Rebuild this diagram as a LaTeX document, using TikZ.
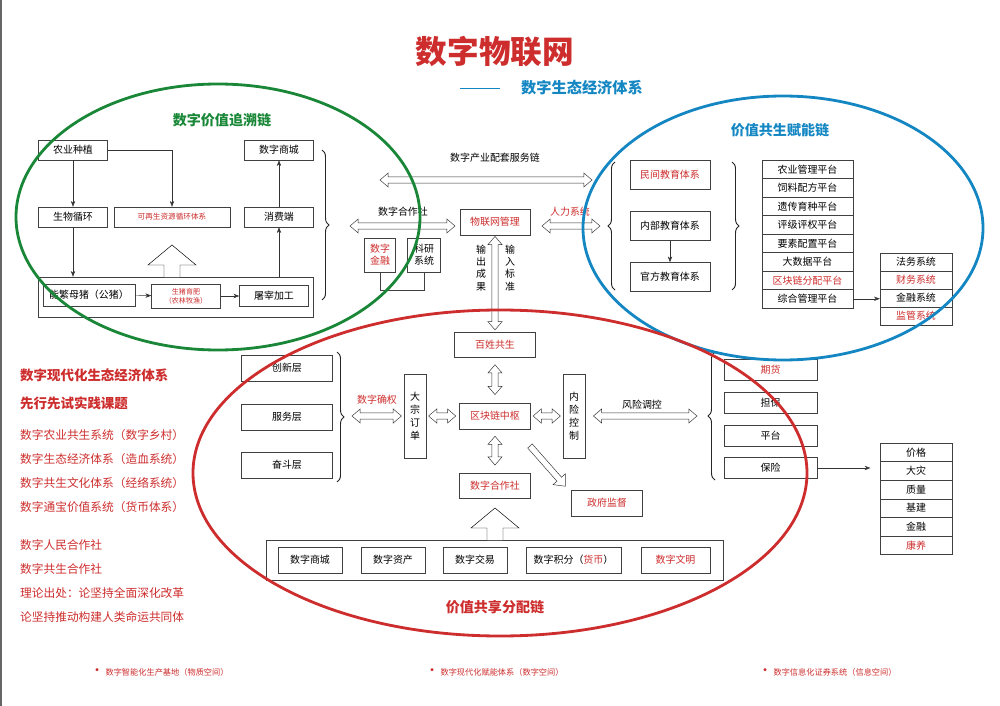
\documentclass[tikz,border=0pt]{standalone}
\usepackage{fontspec}
\setmainfont{Noto Sans CJK SC}
\usetikzlibrary{arrows.meta, calc, positioning, decorations.pathreplacing}
\definecolor{tred}{RGB}{205,45,45}
\definecolor{tgreen}{RGB}{25,135,55}
\definecolor{tblue}{RGB}{20,135,195}
\newcommand{\blockup}[3]{% x, bottom y, tip y
  \draw[thin, fill=white] (#1-8,#2) -- (#1-8,#3+20) -- (#1-24,#3+20) -- (#1,#3) -- (#1+24,#3+20) -- (#1+8,#3+20) -- (#1+8,#2);}
% hollow double arrow between two points
\newcommand{\dblarrow}[2]{%
  \draw[hollow] let \p1=(#1), \p2=(#2), \n1={atan2(\y2-\y1,\x2-\x1)}, \n2={veclen(\x2-\x1,\y2-\y1)} in
    [shift={(\p1)}, rotate=\n1] (0pt,0pt) -- (7pt,6pt) -- (7pt,2.6pt) -- ({\n2-7pt},2.6pt) -- ({\n2-7pt},6pt) -- (\n2,0pt)
    -- ({\n2-7pt},-6pt) -- ({\n2-7pt},-2.6pt) -- (7pt,-2.6pt) -- (7pt,-6pt) -- cycle;}
\newcommand{\onearrow}[2]{%
  \draw[hollow] let \p1=(#1), \p2=(#2), \n1={atan2(\y2-\y1,\x2-\x1)}, \n2={veclen(\x2-\x1,\y2-\y1)} in
    [shift={(\p1)}, rotate=\n1] (0pt,2.6pt) -- ({\n2-8pt},2.6pt) -- ({\n2-8pt},7pt) -- (\n2,0pt)
    -- ({\n2-8pt},-7pt) -- ({\n2-8pt},-2.6pt) -- (0pt,-2.6pt) -- cycle;}
\tikzset{
  box/.style={draw=black!75, thin, fill=white, inner sep=0pt, font=\fontsize{8.5}{10}\selectfont},
  wh/.style 2 args={minimum width=#1*0.03cm, minimum height=#2*0.03cm},
  arr/.style={-{Stealth[length=5pt]}, thin, black!80},
  hollow/.style={thin, black!80, fill=white},
  lbl/.style={font=\fontsize{8.5}{10}\selectfont},
  brc/.style={decorate, decoration={brace, amplitude=6pt}, thick, black!85},
  note/.style={tred, anchor=west, font=\fontsize{10}{12}\selectfont},
}
\begin{document}
\begin{tikzpicture}[x=0.03cm, y=-0.03cm]
\useasboundingbox (0,0) rectangle (1000,706);
\draw[black!60, line width=1pt] (1,0) -- (1,706);

% title
\node[tred, font=\fontsize{27}{30}\bfseries] (title) at (495,52) {数字物联网};
\node[tblue, font=\fontsize{13}{15}\bfseries] (subtitle) at (582,88) {数字生态经济体系};
\draw[tblue, thick] (460,88) -- (500,88);

% traceability chain
\node[box, wh={69}{20}] (plant) at (73,150) {农业种植};
\node[box, wh={69}{20}] (cycle) at (73,217) {生物循环};
\node[box, wh={116}{20}, text=tred, font=\fontsize{6.5}{8}\selectfont] (renew) at (172,217) {可再生资源循环体系};
\node[box, wh={69}{20}] (mall) at (279,150) {数字商城};
\node[box, wh={69}{20}] (consume) at (279,217) {消费端};
\node[box, wh={275}{40}] (farm) at (175.5,297) {};
\node[box, wh={92}{22}] (sow) at (89,295) {能繁母猪（公猪）};
\node[box, wh={69}{24}, text=tred, align=center, font=\fontsize{6}{7.5}\selectfont] (fatten) at (186,296) {生猪育肥\\（农林牧渔）};
\node[box, wh={69}{21}] (slaughter) at (274,296) {屠宰加工};
\draw[arr] (plant) -- (cycle);
\draw[arr] (plant.east) -| (renew.north);
\draw[arr] (cycle.south) -- (cycle.south |- farm.north);
\draw[arr] (consume.south |- farm.north) -- (consume.south);
\draw[arr] (consume) -- (mall);
\draw[arr] (sow) -- (fatten);
\draw[arr] (fatten) -- (slaughter);
\blockup{172}{277}{245}
\draw[brc] (322,150) -- (322,300);

% service chain
\node[lbl] (servlbl) at (495,158) {数字产业配套服务链};
\coordinate (servL) at (380,180);
\coordinate (servR) at (592,180);
\dblarrow{servL}{servR}
\node[lbl] (coop1) at (403,212) {数字合作社};
\node[box, wh={70}{26}, text=tred] (iot) at (495,222) {物联网管理};
\coordinate (coopL) at (350,226);
\coordinate (coopR) at (455,226);
\dblarrow{coopL}{coopR}
\node[box, wh={31}{34}, text=tred, align=center] (fin) at (380,255) {数字\\金融};
\node[box, wh={33}{34}, align=center] (sci) at (424,255) {科研\\系统};
\draw[thin, black!75] (fin.south) -- ++(0,18) -| (sci.south);
\node[lbl, tred] (hr) at (570,212) {人力系统};
\coordinate (hrL) at (542,226);
\coordinate (hrR) at (600,226);
\dblarrow{hrL}{hrR}

% empowerment chain
\draw[brc] (615,290) -- (615,162);
\node[box, wh={80}{29}, text=tred] (edu1) at (670,175) {民间教育体系};
\node[box, wh={80}{29}] (edu2) at (670,226) {内部教育体系};
\node[box, wh={80}{29}] (edu3) at (670,277) {官方教育体系};
\draw[arr] (edu2) -- (edu3);
\draw[brc] (732,162) -- (732,290);
\foreach \t [count=\i] in {农业管理平台,饲料配方平台,遗传育种平台,评级评权平台,要素配置平台,大数据平台,{\textcolor{tred}{区块链分配平台}},综合管理平台}
  \node[box, wh={91}{18.5}] (plat\i) at (807.5,169.25+18.5*\i-18.5) {\t};
\foreach \t [count=\i] in {法务系统,{\textcolor{tred}{财务系统}},金融系统,{\textcolor{tred}{监管系统}}}
  \node[box, wh={72}{18}] (sys\i) at (916,262+18*\i-18) {\t};
\draw[arr] (plat8) -- (sys3.west |- plat8);

% distribution chain
\node[box, wh={91}{26}] (layer1) at (287,368) {创新层};
\node[box, wh={91}{26}] (layer2) at (287,417) {服务层};
\node[box, wh={91}{26}] (layer3) at (287,465) {奋斗层};
\draw[brc] (337,352) -- (337,482);
\node[lbl, tred] (confirm) at (377,400) {数字确权};
\node[box, wh={22}{84}, align=center, font=\fontsize{8.5}{11}\selectfont] (order) at (415,416) {大\\宗\\订\\单};
\node[box, wh={71}{26}, text=tred] (hub) at (495,416) {区块链中枢};
\node[box, wh={81}{25}, text=tred] (people) at (495,345) {百姓共生};
\node[box, wh={71}{25}, text=tred] (coop2) at (495,486) {数字合作社};
\node[box, wh={22}{84}, align=center, font=\fontsize{8.5}{11}\selectfont] (risk) at (574,416) {内\\险\\控\\制};
\node[box, wh={71}{26}, text=tred] (gov) at (607,503) {政府监督};
\coordinate (confL) at (352,416);
\dblarrow{confL}{[xshift=-2pt]order.west}
\dblarrow{[xshift=2pt]order.east}{[xshift=-3pt]hub.west}
\dblarrow{[xshift=2pt]hub.east}{[xshift=-2pt]risk.west}
\dblarrow{[yshift=-6pt]people.south}{[yshift=7pt]hub.north}
\dblarrow{[yshift=-6pt]hub.south}{[yshift=7pt]coop2.north}
\dblarrow{[yshift=-1pt]iot.south}{[yshift=2pt]people.north}
\node[lbl, align=center, font=\fontsize{8.5}{10.5}\selectfont] (outlbl) at (481,268) {输\\出\\成\\果};
\node[lbl, align=center, font=\fontsize{8.5}{10.5}\selectfont] (inlbl) at (510,268) {输\\入\\标\\准};
\node[lbl] (ctrl) at (642,405) {风险调控};
\coordinate (ctrlR) at (697,416);
\dblarrow{[xshift=7pt]risk.east}{ctrlR}
\coordinate (diagA) at (530,446);
\onearrow{diagA}{[shift={(-5pt,3pt)}]gov.north west}
\node[box, wh={457}{40}] (assets) at (494.5,560) {};
\foreach \t/\x/\w [count=\i] in {数字商城/310/64, 数字资产/393/64, 数字交易/475/64, {数字积分（\textcolor{tred}{货币}）}/573.5/95, {\textcolor{tred}{数字文明}}/675.5/69}
  \node[box, wh={\w}{26}] (asset\i) at (\x,560) {\t};
\blockup{495}{540}{508}

% risk products
\draw[brc] (715,480) -- (715,352);
\foreach \t/\y [count=\i] in {{\textcolor{tred}{期货}}/370, 担保/403, 平台/436, 保险/468}
  \node[box, wh={93}{21}] (ins\i) at (770.5,\y) {\t};
\foreach \t [count=\i] in {价格,大灾,质量,基建,金融,{\textcolor{tred}{康养}}}
  \node[box, wh={72}{18.6}] (cov\i) at (916,452.3+18.6*\i-18.6) {\t};
\draw[arr] (ins4) -- ([xshift=-8pt]cov2.west |- ins4);

% chains
\draw[tgreen, line width=2.4pt] (218,217) ellipse (202 and 133);
\draw[tblue, line width=2.4pt] (783,228) ellipse (200 and 132);
\draw[tred, line width=2.4pt] (500,473) ellipse (307 and 163);
\node[tgreen, font=\fontsize{12}{14}\bfseries] (greenlbl) at (222,120) {数字价值追溯链};
\node[tblue, font=\fontsize{12}{14}\bfseries] (bluelbl) at (780,130) {价值共生赋能链};
\node[tred, font=\fontsize{12}{14}\bfseries] (redlbl) at (495,607) {价值共享分配链};

% notes
\node[note, font=\fontsize{11.5}{13}\bfseries] (n1) at (16,375) {数字现代化生态经济体系};
\node[note, font=\fontsize{11.5}{13}\bfseries] (n2) at (16,403) {先行先试实践课题};
\foreach \t/\y [count=\i] in {数字农业共生系统（数字乡村）/435, 数字生态经济体系（造血系统）/459, 数字共生文化体系（经络系统）/483, 数字通宝价值系统（货币体系）/507, 数字人民合作社/545, 数字共生合作社/569, 理论出处：论坚持全面深化改革/593, 论坚持推动构建人类命运共同体/617}
  \node[note] (m\i) at (16,\y) {\t};

% footer
\foreach \t/\x [count=\i] in {数字智能化生产基地（物质空间）/86, 数字现代化赋能体系（数字空间）/421, 数字信息化证券系统（信息空间）/754}
  \node[note, font=\fontsize{7}{8}\selectfont] (f\i) at (\x,672) {{\fontsize{12}{8}\selectfont •}\,\t};
\end{tikzpicture}
\end{document}
